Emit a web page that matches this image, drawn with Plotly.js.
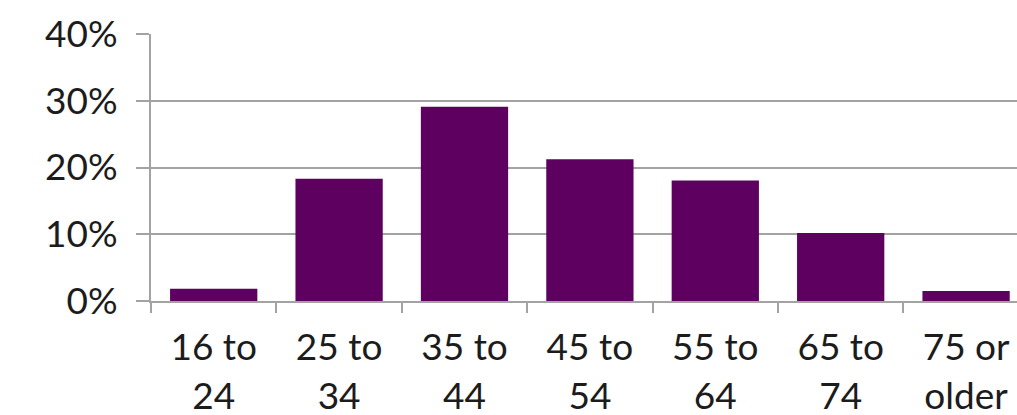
<!DOCTYPE html>
<html>
<head>
<meta charset="utf-8">
<script src="https://cdn.plot.ly/plotly-3.0.1.min.js"></script>
<style>
  html, body { margin: 0; padding: 0; background: #ffffff; }
  #chart { width: 1017px; height: 415px; }
</style>
</head>
<body>
<div id="chart"></div>
<script>
// Share of workers in each age group (percent)
const ageGroups = ["16 to<br>24", "25 to<br>34", "35 to<br>44", "45 to<br>54", "55 to<br>64", "65 to<br>74", "75 or<br>older"];
const shares = [1.85, 18.3, 29.1, 21.25, 18.05, 10.2, 1.5];
const yTicks = [0, 10, 20, 30, 40];

const barColor = "#5e0060";
const lineColor = "#a3a3a3";
const textFont = { family: "Lato, 'Open Sans', sans-serif", size: 37, color: "#1c1c1c" };

const trace = {
  type: "bar",
  x: ageGroups,
  y: shares,
  marker: { color: barColor, line: { width: 0 } },
  hoverinfo: "skip"
};

const layout = {
  width: 1017,
  height: 415,
  margin: { l: 151, r: 0, t: 34, b: 114, pad: 0 },
  paper_bgcolor: "#ffffff",
  plot_bgcolor: "#ffffff",
  showlegend: false,
  bargap: 0.304,
  font: textFont,
  xaxis: {
    type: "category",
    range: [-0.5, 6.406],
    tickson: "boundaries",
    ticks: "outside",
    ticklen: 10,
    tickwidth: 2,
    tickcolor: lineColor,
    showline: true,
    linecolor: lineColor,
    linewidth: 2,
    showgrid: false,
    zeroline: false,
    tickfont: textFont,
    ticklabelstandoff: 13,
    fixedrange: true
  },
  yaxis: {
    range: [0, 40],
    tickvals: yTicks,
    ticktext: yTicks.map(v => v + "%"),
    ticks: "outside",
    ticklen: 13,
    tickwidth: 2,
    tickcolor: lineColor,
    showline: true,
    linecolor: lineColor,
    linewidth: 2,
    showgrid: true,
    gridcolor: lineColor,
    gridwidth: 2,
    zeroline: false,
    tickfont: textFont,
    ticklabelstandoff: 11,
    fixedrange: true
  }
};

Plotly.newPlot("chart", [trace], layout, { staticPlot: true, displayModeBar: false });
</script>
</body>
</html>
